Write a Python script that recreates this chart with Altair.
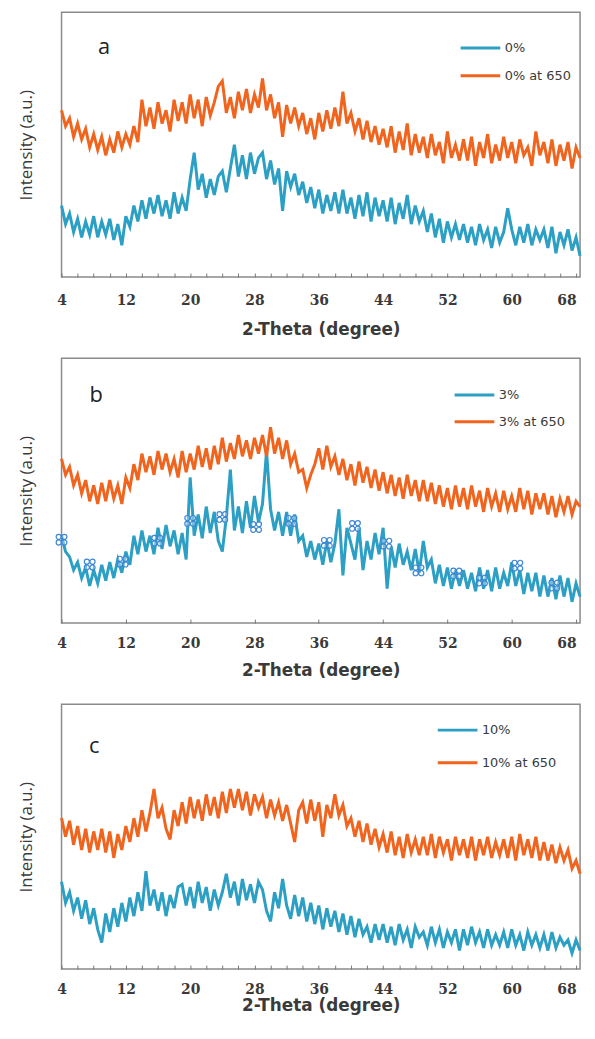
import altair as alt
import pandas as pd

# 2-theta sampling grid (degrees), 4.0 .. 68.5 every 0.5
theta = [4.0 + 0.5 * i for i in range(130)]

# ---- panel a ----
a_labels = ["0%", "0% at 650"]
a_blue = [27, 20, 24, 17, 22, 15, 21, 16, 23, 15,
          21, 16, 22, 14, 20, 12, 23, 19, 27, 21,
          29, 22, 30, 24, 31, 23, 29, 22, 32, 24,
          30, 25, 37, 47, 33, 39, 30, 37, 31, 38,
          40, 32, 41, 50, 38, 46, 37, 47, 39, 45,
          47, 37, 44, 35, 41, 25, 40, 34, 39, 31,
          36, 28, 34, 26, 33, 24, 31, 25, 32, 24,
          33, 24, 30, 22, 31, 23, 32, 21, 30, 23,
          29, 21, 30, 20, 28, 22, 31, 20, 27, 21,
          25, 17, 24, 15, 22, 13, 21, 15, 20, 14,
          20, 13, 19, 12, 20, 14, 18, 11, 19, 13,
          17, 26, 18, 12, 19, 13, 20, 12, 18, 14,
          18, 11, 19, 9, 17, 12, 18, 10, 15, 8]
a_orange = [63, 57, 60, 53, 58, 52, 56, 49, 54, 48,
            53, 46, 52, 47, 55, 49, 54, 50, 57, 51,
            67, 57, 64, 56, 66, 58, 63, 55, 67, 59,
            66, 58, 69, 60, 67, 57, 68, 61, 66, 72,
            74, 62, 68, 60, 70, 63, 71, 62, 69, 64,
            75, 63, 69, 60, 66, 53, 65, 58, 64, 57,
            62, 54, 60, 52, 62, 55, 63, 56, 64, 57,
            70, 58, 62, 55, 60, 52, 59, 51, 57, 50,
            56, 49, 57, 47, 55, 48, 58, 46, 54, 47,
            53, 45, 54, 46, 51, 43, 55, 45, 50, 44,
            52, 44, 53, 42, 51, 45, 54, 43, 50, 44,
            53, 45, 51, 43, 52, 46, 49, 42, 55, 46,
            51, 43, 52, 42, 50, 44, 51, 41, 49, 45]

# ---- panel b ----
b_labels = ["3%", "3% at 650"]
b_blue = [33, 27, 25, 20, 23, 17, 21, 14, 20, 15,
          22, 16, 23, 17, 24, 19, 27, 22, 33, 26,
          35, 27, 33, 26, 36, 28, 37, 29, 35, 26,
          34, 24, 55, 33, 41, 32, 44, 34, 42, 31,
          27, 40, 58, 35, 44, 34, 46, 36, 48, 38,
          45, 65, 43, 35, 42, 33, 42, 33, 41, 31,
          33, 25, 31, 24, 30, 22, 31, 23, 30, 43,
          18, 36, 30, 24, 36, 20, 31, 24, 34, 26,
          36, 13, 29, 21, 30, 22, 27, 20, 28, 19,
          31, 21, 24, 15, 22, 14, 21, 13, 20, 14,
          20, 13, 19, 12, 21, 13, 20, 12, 21, 13,
          19, 14, 23, 14, 20, 11, 19, 12, 19, 10,
          18, 10, 17, 9, 18, 10, 17, 8, 15, 10]
b_orange = [62, 56, 59, 52, 56, 49, 54, 46, 52, 45,
            53, 46, 54, 47, 52, 45, 55, 51, 60, 54,
            64, 57, 63, 56, 65, 58, 64, 57, 62, 55,
            65, 57, 64, 58, 67, 59, 66, 58, 67, 60,
            70, 61, 68, 62, 71, 63, 69, 62, 70, 64,
            71, 63, 74, 64, 70, 62, 69, 60, 64, 57,
            58, 51, 56, 60, 66, 58, 67, 59, 63, 56,
            62, 54, 60, 52, 61, 53, 59, 51, 58, 50,
            57, 49, 56, 48, 55, 47, 56, 48, 54, 46,
            54, 46, 53, 45, 52, 44, 51, 43, 52, 44,
            51, 43, 52, 44, 50, 42, 51, 44, 49, 42,
            50, 43, 48, 42, 51, 43, 50, 41, 49, 43,
            49, 41, 48, 40, 47, 42, 48, 41, 46, 44]
b_marker_theta = [4.0, 7.5, 11.6, 15.9, 20.0, 24.0, 28.2, 32.6,
                  37.0, 40.5, 44.4, 48.4, 53.1, 56.3, 60.7, 65.3]
b_marker_int = [31.5, 22.1, 23.2, 31.1, 38.6, 40.1, 36.3, 38.6,
                30.3, 36.7, 30.0, 19.9, 18.7, 16.1, 21.7, 14.2]

# ---- panel c ----
c_labels = ["10%", "10% at 650"]
c_blue = [33, 25, 29, 22, 27, 19, 26, 17, 23, 15,
          10, 21, 14, 23, 16, 25, 18, 27, 20, 29,
          22, 37, 24, 30, 22, 29, 20, 28, 23, 31,
          32, 24, 31, 23, 33, 25, 31, 22, 30, 24,
          29, 36, 27, 33, 24, 34, 26, 32, 25, 33,
          30, 22, 18, 29, 23, 34, 24, 19, 28, 20,
          27, 18, 25, 17, 24, 15, 23, 16, 22, 14,
          21, 13, 20, 12, 19, 13, 16, 10, 17, 11,
          17, 10, 16, 9, 17, 11, 15, 8, 16, 12,
          14, 9, 16, 10, 15, 8, 14, 10, 15, 7,
          15, 9, 16, 10, 14, 8, 15, 9, 13, 9,
          14, 8, 15, 9, 13, 7, 14, 9, 13, 8,
          13, 7, 14, 8, 12, 9, 11, 6, 11, 7]
c_orange = [57, 50, 56, 47, 54, 45, 53, 44, 52, 45,
            53, 44, 52, 42, 51, 45, 54, 48, 57, 50,
            60, 52, 59, 68, 57, 61, 53, 49, 60, 54,
            63, 55, 65, 57, 64, 56, 66, 58, 65, 57,
            67, 59, 68, 61, 68, 60, 67, 58, 66, 61,
            65, 57, 64, 58, 63, 56, 62, 55, 48, 60,
            63, 55, 64, 56, 63, 50, 62, 57, 66, 58,
            62, 54, 57, 50, 56, 48, 55, 47, 53, 46,
            51, 44, 52, 43, 50, 42, 51, 44, 49, 43,
            50, 43, 51, 42, 50, 44, 49, 41, 50, 43,
            49, 42, 50, 41, 49, 43, 50, 42, 48, 43,
            49, 42, 50, 41, 51, 43, 49, 42, 50, 41,
            48, 41, 47, 40, 46, 41, 45, 38, 41, 36]

x_ticks = list(range(4, 69, 2))

BLUE = "#2b9fc4"
ORANGE = "#f0641e"
TXT = "#3a3a3a"
MARKER_PATH = ("M-0.95,-0.5a0.45,0.45 0 1,0 0.9,0a0.45,0.45 0 1,0 -0.9,0"
               "M0.05,-0.5a0.45,0.45 0 1,0 0.9,0a0.45,0.45 0 1,0 -0.9,0"
               "M-0.95,0.5a0.45,0.45 0 1,0 0.9,0a0.45,0.45 0 1,0 -0.9,0"
               "M0.05,0.5a0.45,0.45 0 1,0 0.9,0a0.45,0.45 0 1,0 -0.9,0")


def panel(letter, labels, blue, orange, letter_xy, leg_xy, row_pad,
          label_pad, title_pad, markers=None):
    df = pd.DataFrame({
        "theta": theta + theta,
        "intensity": blue + orange,
        "series": [labels[0]] * len(theta) + [labels[1]] * len(theta),
    })
    xenc = alt.X(
        "theta:Q",
        scale=alt.Scale(domain=[4, 68.5], nice=False, zero=False),
        axis=alt.Axis(
            values=x_ticks,
            labelExpr="(datum.value - 4) % 8 == 0 ? datum.label : ''",
            labelAlign={"condition": {"test": "datum.value >= 68",
                                      "value": "right"},
                        "value": "center"},
            grid=False, domain=False, offset=-4, tickSize=4,
            tickColor="#777777", tickWidth=1, labelFlush=False,
            labelOverlap=False, labelFont="DejaVu Serif", labelFontSize=14,
            labelFontWeight="bold", labelColor=TXT, labelPadding=label_pad,
            title="2-Theta (degree)", titleFont="DejaVu Sans",
            titleFontSize=17, titleFontWeight="bold", titleColor=TXT,
            titlePadding=title_pad,
        ),
    )
    yenc = alt.Y(
        "intensity:Q",
        scale=alt.Scale(domain=[0, 100], nice=False, zero=False),
        axis=alt.Axis(
            labels=False, ticks=False, domain=False, grid=False,
            minExtent=0, title="Intensity (a.u.)", titleFont="Open Sans",
            titleFontSize=17, titleFontWeight="normal", titleColor=TXT,
            titlePadding=26,
        ),
    )
    color = alt.Color(
        "series:N",
        scale=alt.Scale(domain=labels, range=[BLUE, ORANGE]),
        legend=alt.Legend(
            title=None, orient="none", legendX=leg_xy[0], legendY=leg_xy[1],
            symbolType="stroke", symbolSize=1600, symbolStrokeWidth=3,
            clipHeight=14, rowPadding=row_pad, padding=0, labelOffset=3,
            labelFont="DejaVu Sans", labelFontSize=13, labelColor=TXT,
        ),
    )
    lines = alt.Chart(df).mark_line(strokeWidth=3, strokeJoin="miter").encode(
        x=xenc, y=yenc, color=color
    )
    txt = alt.Chart(pd.DataFrame({"t": [letter]})).mark_text(
        font="Open Sans", fontSize=22, color="#222222", align="center",
        baseline="middle",
    ).encode(text="t:N", x=alt.value(letter_xy[0]), y=alt.value(letter_xy[1]))
    layers = [lines, txt]
    if markers is not None:
        mdf = pd.DataFrame({"theta": markers[0], "intensity": markers[1]})
        pts = alt.Chart(mdf).mark_point(
            shape=MARKER_PATH, size=130, stroke="#3d86d6", strokeWidth=1.2,
            fill="white", fillOpacity=0.35, opacity=1,
        ).encode(x="theta:Q", y="intensity:Q")
        layers.append(pts)
    return alt.layer(*layers).properties(width=523, height=267)


pa = panel("a", a_labels, a_blue, a_orange, (43, 35), (401, 29), 14, 16.4, 14.9)
pb = panel("b", b_labels, b_blue, b_orange, (35, 37), (395, 30), 13, 13.4, 12.9,
           markers=(b_marker_theta, b_marker_int))
pc = panel("c", c_labels, c_blue, c_orange, (33, 42), (378, 19), 19, 13.4, 1.5)

chart = alt.vconcat(pa, pb, pc, spacing=82, bounds="flush").resolve_scale(
    color="independent"
).resolve_legend(color="independent").properties(
    padding={"left": 9, "top": -1, "right": 0, "bottom": 0},
    background="white",
).configure_view(stroke="#8a8a8a", strokeWidth=1.5)

chart.save("out.html", embed_options={"renderer": "svg", "actions": False})
